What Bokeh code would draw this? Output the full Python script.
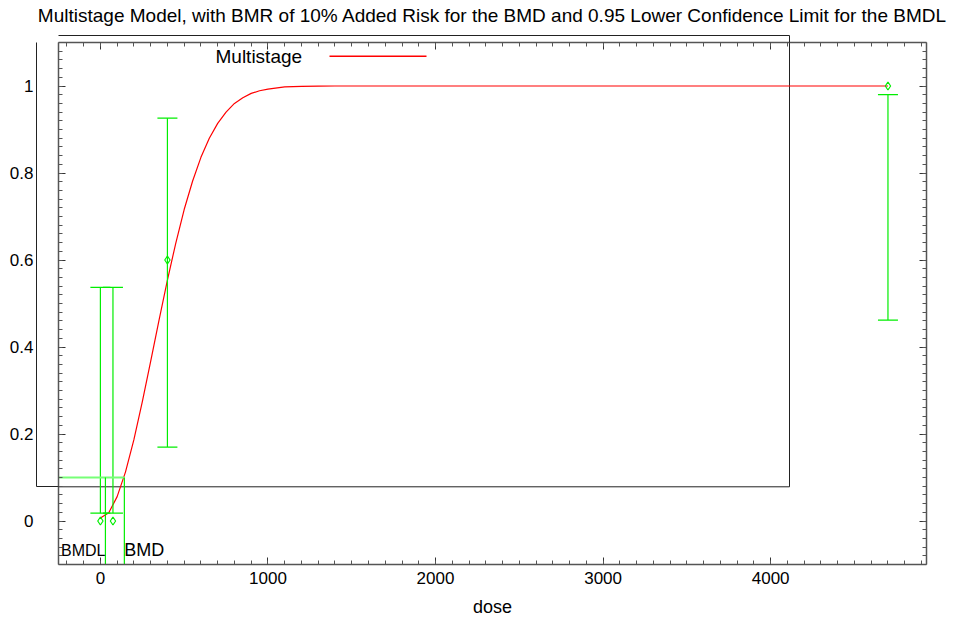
from bokeh.plotting import figure
from bokeh.models import (Range1d, LinearAxis, BoxAnnotation, Label,
                          SingleIntervalTicker, NumeralTickFormatter,
                          CustomJSTickFormatter, FixedTicker)
from bokeh.embed import file_html
from bokeh.resources import INLINE

# ---- data ----
dose = [0, 75, 400, 4700]
resp = [0.0, 0.0, 0.6, 1.0]
ci_low = [0.018, 0.018, 0.170, 0.462]
ci_high = [0.537, 0.537, 0.926, 0.980]

curve_dose = [0, 50, 100, 150, 200, 250, 300, 350, 400, 450, 500, 550, 600,
              650, 700, 750, 800, 850, 900, 950, 1000, 1100, 1200, 1300,
              1400, 4700]
curve_resp = [0.007, 0.019, 0.056, 0.113, 0.187, 0.274, 0.367, 0.462, 0.554,
              0.639, 0.716, 0.781, 0.836, 0.880, 0.914, 0.940, 0.960, 0.973,
              0.983, 0.989, 0.993, 0.998, 0.9993, 0.9998, 1.0, 1.0]

bmd = 143
bmdl = 30
bmr_level = 0.1

x_min, x_max = -250, 4930
y_min, y_max = -0.1, 1.1

title = ("Multistage Model, with BMR of 10% Added Risk for the BMD and "
         "0.95 Lower Confidence Limit for the BMDL")
legend_label = "Multistage"

# ---- layout (pixels) ----
W, H = 980, 619
FRAME_L, FRAME_R, FRAME_T, FRAME_B = 58, 926, 42, 566
BOX_L, BOX_R, BOX_T, BOX_B = 36, 789, 35, 488   # legend frame


def px_to_x(px):
    return x_min + (px - FRAME_L) / (FRAME_R - FRAME_L) * (x_max - x_min)


def py_to_y(py):
    return y_max - (py - FRAME_T) / (FRAME_B - FRAME_T) * (y_max - y_min)


FONT = "Liberation Sans"
GREEN = "#00ee00"
AXC = "#555555"
BOXC = "#222222"


def blank():
    return CustomJSTickFormatter(code="return ''")


p = figure(width=W, height=H, output_backend="svg", toolbar_location=None,
           x_range=Range1d(x_min, x_max), y_range=Range1d(y_min, y_max),
           min_border_left=FRAME_L, min_border_right=W - FRAME_R,
           min_border_top=FRAME_T, min_border_bottom=H - FRAME_B,
           x_axis_label="dose")
p.outline_line_color = None
p.grid.visible = False
p.background_fill_color = "white"
p.border_fill_color = "white"

bottom_ax = p.below[0]
left_ax = p.left[0]
bottom_ax.ticker = SingleIntervalTicker(interval=1000, num_minor_ticks=10)
left_ax.ticker = SingleIntervalTicker(interval=0.2, num_minor_ticks=10)
bottom_ax.formatter = NumeralTickFormatter(format="0")
left_ax.formatter = blank()

top_ax = LinearAxis(ticker=SingleIntervalTicker(interval=1000, num_minor_ticks=10),
                    formatter=blank())
right_ax = LinearAxis(ticker=SingleIntervalTicker(interval=0.2, num_minor_ticks=10),
                      formatter=blank())
p.add_layout(top_ax, "above")
p.add_layout(right_ax, "right")

for ax in [bottom_ax, left_ax, top_ax, right_ax]:
    ax.axis_line_color = AXC
    ax.axis_line_width = 1.5
    ax.major_tick_line_color = "#333333"
    ax.minor_tick_line_color = AXC
    ax.major_tick_in = 7
    ax.major_tick_out = 0
    ax.minor_tick_in = 4
    ax.minor_tick_out = 0
    ax.major_label_text_font = FONT
    ax.major_label_text_font_size = "17px"
    ax.major_label_text_color = "black"

bottom_ax.major_label_standoff = 7
bottom_ax.axis_label_text_font = FONT
bottom_ax.axis_label_text_font_size = "18px"
bottom_ax.axis_label_text_font_style = "normal"
bottom_ax.axis_label_text_color = "black"
bottom_ax.axis_label_standoff = 10


def spacer_axis(size, ticker):
    ax = LinearAxis(ticker=ticker, formatter=blank())
    ax.axis_line_color = None
    ax.major_tick_line_color = None
    ax.minor_tick_line_color = None
    ax.major_tick_in = 0
    ax.major_tick_out = size
    ax.minor_tick_out = 0
    ax.minor_tick_in = 0
    ax.major_label_standoff = 0
    return ax


def box_axis(bounds, tick, tick_len):
    ax = LinearAxis(ticker=FixedTicker(ticks=[tick]), formatter=blank(),
                    bounds=bounds)
    ax.axis_line_color = BOXC
    ax.axis_line_width = 1
    ax.major_tick_line_color = BOXC
    ax.major_tick_line_width = 1
    ax.major_tick_in = tick_len
    ax.major_tick_out = 0
    ax.minor_tick_line_color = None
    ax.major_label_standoff = 0
    return ax


# spacers between plot frame and the legend frame
p.add_layout(spacer_axis(FRAME_L - BOX_L,
                         SingleIntervalTicker(interval=0.2, num_minor_ticks=0)),
             "left")
p.add_layout(spacer_axis(FRAME_T - BOX_T,
                         SingleIntervalTicker(interval=1000, num_minor_ticks=0)),
             "above")

# legend frame parts lying outside the plot frame
p.add_layout(box_axis((py_to_y(BOX_B), py_to_y(BOX_T)), py_to_y(BOX_B),
                      FRAME_L - BOX_L), "left")
box_top = box_axis((px_to_x(BOX_L), px_to_x(BOX_R)), px_to_x(BOX_R),
                   FRAME_T - BOX_T)
# chart title carried as this top axis' label
box_top.axis_label = title
box_top.axis_label_text_font = FONT
box_top.axis_label_text_font_size = "19px"
box_top.axis_label_text_font_style = "normal"
box_top.axis_label_text_color = "black"
box_top.axis_label_standoff = 10
p.add_layout(box_top, "above")

# y tick labels
label_ax = LinearAxis(ticker=SingleIntervalTicker(interval=0.2, num_minor_ticks=0),
                      formatter=NumeralTickFormatter(format="0.[0]"))
label_ax.axis_line_color = None
label_ax.major_tick_line_color = None
label_ax.minor_tick_line_color = None
label_ax.major_tick_in = 0
label_ax.major_tick_out = 0
label_ax.major_label_standoff = 3
label_ax.major_label_text_font = FONT
label_ax.major_label_text_font_size = "17px"
label_ax.major_label_text_color = "black"
p.add_layout(label_ax, "left")

# legend frame parts inside the plot frame
p.segment(x0=[px_to_x(BOX_R), x_min], y0=[py_to_y(BOX_B), py_to_y(BOX_B)],
          x1=[px_to_x(BOX_R), px_to_x(BOX_R)], y1=[y_max, py_to_y(BOX_B)],
          line_color=BOXC, line_width=1)

# fitted curve
p.line(curve_dose, curve_resp, line_color="red", line_width=1.2)

# error bars
p.segment(x0=dose, y0=ci_low, x1=dose, y1=ci_high, line_color=GREEN,
          line_width=1.2)
p.scatter(dose, ci_low, marker="dash", size=20, line_color=GREEN,
          line_width=1.2)
p.scatter(dose, ci_high, marker="dash", size=20, line_color=GREEN,
          line_width=1.2)
p.scatter(dose, resp, marker="diamond", size=8, line_color=GREEN,
          fill_color=None, line_width=1.2)

# BMD / BMDL indicator lines
p.segment(x0=[x_min], y0=[bmr_level], x1=[bmd], y1=[bmr_level],
          line_color="#77ff77", line_width=2)
p.segment(x0=[bmdl, bmd], y0=[bmr_level, bmr_level], x1=[bmdl, bmd],
          y1=[y_min, y_min], line_color=GREEN, line_width=1.2)

p.add_layout(Label(x=bmdl, y=-0.067, text="BMDL", text_align="right",
                   text_baseline="middle", text_font=FONT,
                   text_font_size="16px", text_color="black"))
p.add_layout(Label(x=bmd, y=-0.067, text="BMD", text_align="left",
                   text_baseline="middle", text_font=FONT,
                   text_font_size="18px", text_color="black"))

# legend entry
p.add_layout(Label(x=215, y=56, x_units="canvas", y_units="canvas",
                   text=legend_label, text_align="left",
                   text_baseline="middle", text_font=FONT,
                   text_font_size="19px", text_color="black"))
p.add_layout(BoxAnnotation(left=329, right=426, top=55, bottom=56.5,
                           left_units="canvas", right_units="canvas",
                           top_units="canvas", bottom_units="canvas",
                           fill_color="red", fill_alpha=1, line_color=None))

open("out.html", "w").write(file_html(p, INLINE))
